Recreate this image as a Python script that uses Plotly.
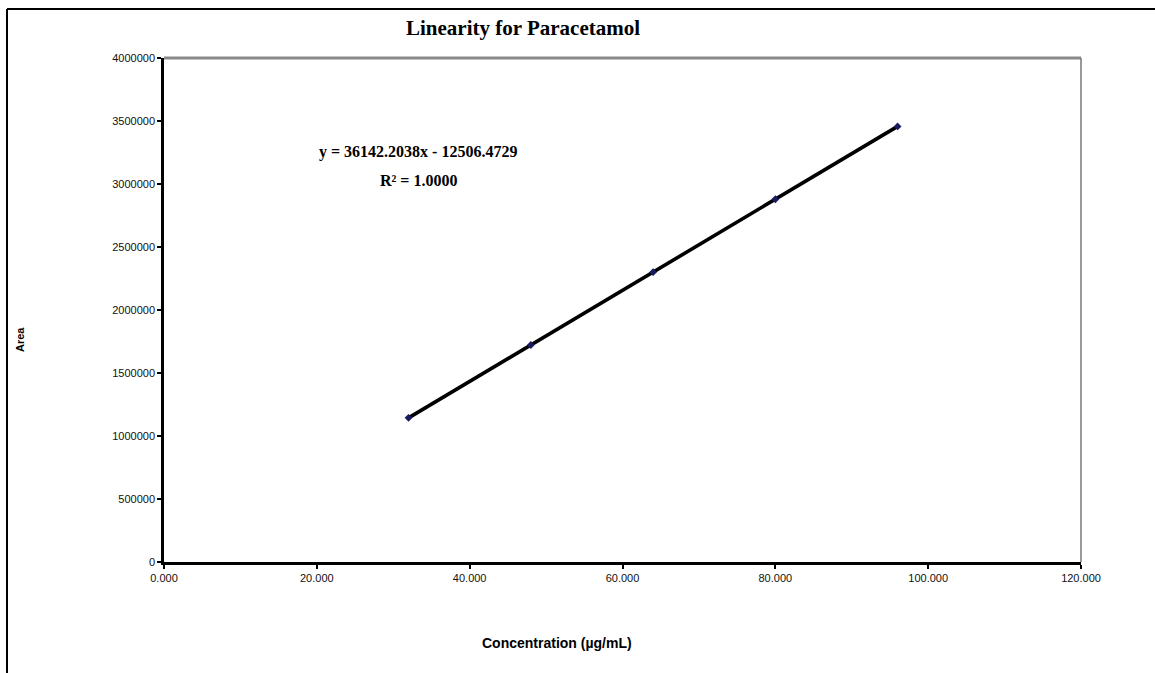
import plotly.graph_objects as go

# Calibration data for paracetamol
concentration = [32.0, 48.0, 64.0, 80.0, 96.0]          # µg/mL
peak_area = [1144044, 1722319, 2300594, 2878870, 3457145]

x_ticks = [0, 20, 40, 60, 80, 100, 120]
y_ticks = [0, 500000, 1000000, 1500000, 2000000, 2500000, 3000000, 3500000, 4000000]

title_text = "Linearity for Paracetamol"
equation_text = "y = 36142.2038x - 12506.4729"
r2_text = "R² = 1.0000"

L, R, T, B = 164, 74, 58, 111
W, H = 1155, 673
pw, ph = W - L - R, H - T - B


def px(x):
    return (x - L) / pw


def py(y):
    return (H - B - y) / ph


fig = go.Figure()

# Linear trend line through the standards
fig.add_trace(go.Scatter(
    x=concentration, y=peak_area, mode="lines",
    line=dict(color="#000000", width=3.6),
    hoverinfo="skip", showlegend=False,
))
# Measured standards
fig.add_trace(go.Scatter(
    x=concentration, y=peak_area, mode="markers",
    marker=dict(symbol="diamond", size=6, color="#1a1a5e"),
    showlegend=False,
))

tick_font = dict(family="Liberation Sans Narrow, Arial Narrow, Liberation Sans", size=11, color="#111")

fig.update_xaxes(
    range=[0, 120], tickvals=x_ticks, tickformat=".3f",
    showline=True, linecolor="#000", linewidth=2.5,
    ticks="outside", ticklen=4, tickwidth=1.5, tickcolor="#000",
    showgrid=False, zeroline=False, tickfont=tick_font,
)
fig.update_yaxes(
    range=[0, 4000000], tickvals=y_ticks, tickformat="d",
    showline=True, linecolor="#000", linewidth=2.5,
    ticks="outside", ticklen=4, tickwidth=1.5, tickcolor="#000",
    showgrid=False, zeroline=False, tickfont=tick_font,
)

shapes = [
    # plot area frame (top and right)
    dict(type="line", xref="paper", yref="paper", x0=0, x1=1, y0=1, y1=1,
         line=dict(color="#8a8a8a", width=3)),
    dict(type="line", xref="paper", yref="paper", x0=1, x1=1, y0=0, y1=1,
         line=dict(color="#777", width=1.5)),
    # outer chart border
    dict(type="line", xref="paper", yref="paper", x0=px(7), x1=px(1160), y0=py(9), y1=py(9),
         line=dict(color="#000", width=2)),
    dict(type="line", xref="paper", yref="paper", x0=px(7), x1=px(7), y0=py(9), y1=py(680),
         line=dict(color="#000", width=2)),
]

serif = "Liberation Serif, Times New Roman, serif"
sans = "Liberation Sans Narrow, Arial Narrow, Liberation Sans"

annotations = [
    dict(text=f"<b>{title_text}</b>", x=px(523), y=py(28), xref="paper", yref="paper",
         showarrow=False, xanchor="center", yanchor="middle",
         font=dict(family=serif, size=21, color="#000")),
    dict(text=f"<b>{equation_text}</b>", x=px(418), y=py(152), xref="paper", yref="paper",
         showarrow=False, xanchor="center", yanchor="middle",
         font=dict(family=serif, size=16, color="#000")),
    dict(text=f"<b>{r2_text}</b>", x=px(418), y=py(180), xref="paper", yref="paper",
         showarrow=False, xanchor="center", yanchor="middle",
         font=dict(family=serif, size=16, color="#000")),
    dict(text="<b>Area</b>", x=px(20), y=py(340), xref="paper", yref="paper",
         showarrow=False, textangle=-90, xanchor="center", yanchor="middle",
         font=dict(family="Liberation Sans", size=11, color="#000")),
    dict(text="<b>Concentration (µg/mL)</b>", x=px(557), y=py(643), xref="paper", yref="paper",
         showarrow=False, xanchor="center", yanchor="middle",
         font=dict(family=sans, size=14, color="#000")),
]

fig.update_layout(
    width=W, height=H,
    margin=dict(l=L, r=R, t=T, b=B),
    paper_bgcolor="white", plot_bgcolor="white",
    shapes=shapes, annotations=annotations,
    showlegend=False,
)

fig.write_html("out.html")
